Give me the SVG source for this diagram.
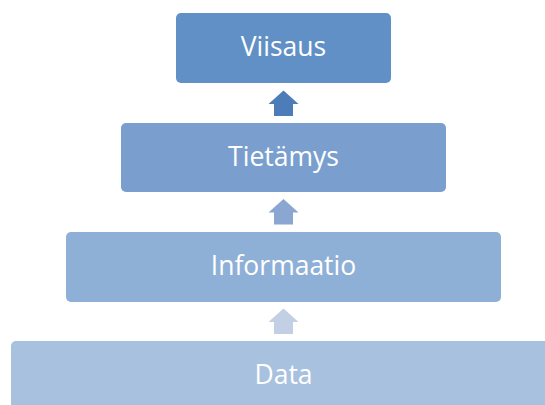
<svg xmlns="http://www.w3.org/2000/svg" width="545" height="405" viewBox="0 0 545 405">
  <style>
    .box { stroke: none; }
    .label { font-family: "Open Sans", "Noto Sans", "Liberation Sans", sans-serif; font-size: 26.5px; fill: #ffffff; text-anchor: middle; }
  </style>
  <defs>
    <!-- block arrow pointing up, centred on x=0, tip at y=0 -->
    <path id="upArrow" d="M0,0 L15,13.5 L9.5,13.5 L9.5,25.5 L-9.5,25.5 L-9.5,13.5 L-15,13.5 Z"/>
  </defs>
  <rect width="545" height="405" fill="#ffffff"/>

  <g id="connectors">
    <use href="#upArrow" x="283.5" y="90.5" fill="#4d7db9"/>
    <use href="#upArrow" x="283.5" y="199" fill="#8aa6d1"/>
    <use href="#upArrow" x="283.5" y="308.5" fill="#c2cfe4"/>
  </g>

  <g id="viisaus">
    <rect class="box" x="176" y="13" width="215" height="70" rx="5" fill="#6190c6"/>
    <text class="label" x="283.5" y="55.5">Viisaus</text>
  </g>
  <g id="tietamys">
    <rect class="box" x="121" y="123" width="325" height="69" rx="5" fill="#7a9fcf"/>
    <text class="label" x="283.5" y="165.5">Tietämys</text>
  </g>
  <g id="informaatio">
    <rect class="box" x="66" y="232" width="435" height="70" rx="5" fill="#8fb0d6"/>
    <text class="label" x="283.5" y="274.5">Informaatio</text>
  </g>
  <g id="data">
    <rect class="box" x="11" y="341" width="545" height="70" rx="5" fill="#a8c1df"/>
    <text class="label" x="283.5" y="384">Data</text>
  </g>
</svg>
